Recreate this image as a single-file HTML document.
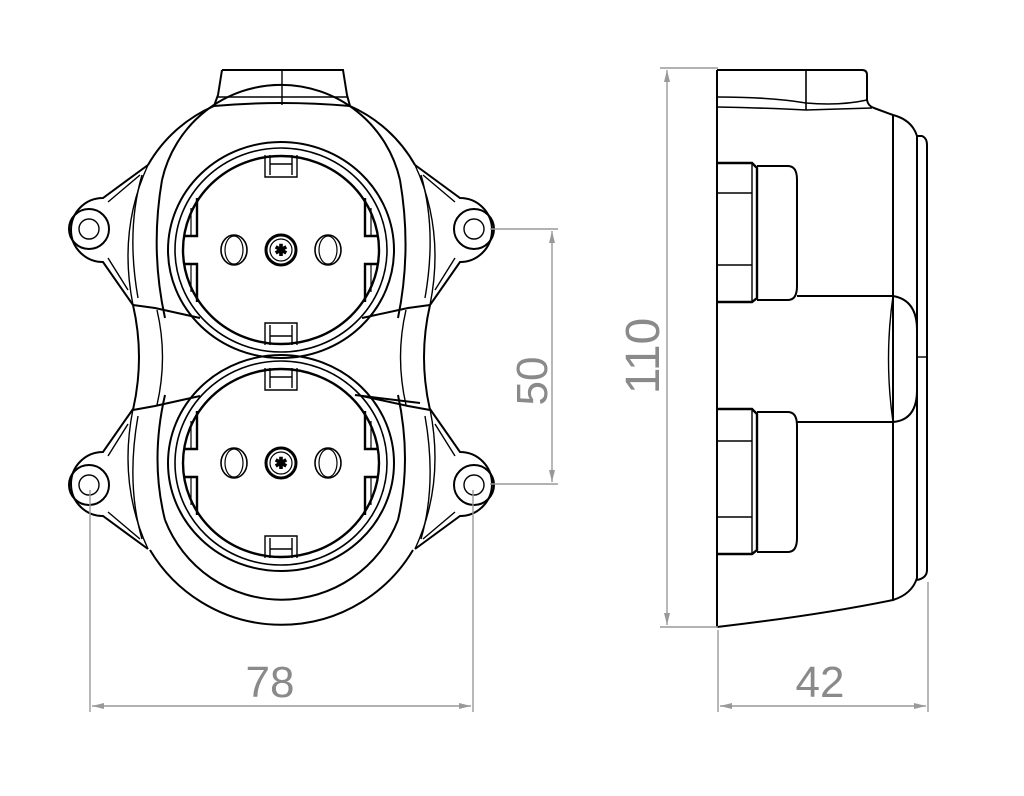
<!DOCTYPE html>
<html><head><meta charset="utf-8"><style>
html,body{margin:0;padding:0;background:#fff;}
svg{display:block;}
text{font-family:"Liberation Sans",sans-serif;fill:#8a8a8a;}
</style></head><body>
<svg width="1024" height="796" viewBox="0 0 1024 796" xmlns="http://www.w3.org/2000/svg">
<defs>
<marker id="ar" viewBox="0 0 12 6" refX="12" refY="3" markerWidth="12" markerHeight="6" orient="auto-start-reverse" markerUnits="userSpaceOnUse">
<path d="M0,0 L12,3 L0,6 Z" fill="#999"/></marker>
<g id="ear">
  <path d="M148,165 L103,198 A30,30 0 0 0 103,262 L133,305" fill="none"/>
  <path d="M140,175 L108,202 M108,258 L128,290" fill="none" stroke-width="1.4"/>
  <circle cx="89" cy="229" r="20" fill="none"/>
  <circle cx="89" cy="229" r="10" fill="none" stroke-width="1.4"/>
  <path d="M148,165 Q118,230 133,305" fill="none" stroke-width="1.4"/>
  <path d="M142,175 Q126,230 138,298" fill="none" stroke-width="1.4"/>
</g>
<g id="sock">
  <ellipse rx="113" ry="108" fill="none" stroke-width="2"/>
  <ellipse rx="106" ry="102" fill="none" stroke-width="1.6"/>
  <ellipse rx="98" ry="94" fill="none" stroke-width="2.4"/>
  <path d="M-84,-52 V-14 H-97 M-97,14 H-84 V52 M84,-52 V-14 H97 M97,14 H84 V52" fill="none" stroke-width="2.4"/>
  <path d="M-90,-42 V-14 M-90,14 V42 M90,-42 V-14 M90,14 V42" fill="none" stroke-width="1.2"/>
  <ellipse cx="-47" cy="0" rx="13" ry="15" fill="none" stroke-width="1.6"/>
  <ellipse cx="-47" cy="0" rx="9" ry="14" fill="none" stroke-width="1.2"/>
  <ellipse cx="47" cy="0" rx="13" ry="15" fill="none" stroke-width="1.6"/>
  <ellipse cx="47" cy="0" rx="9" ry="14" fill="none" stroke-width="1.2"/>
  <circle r="15" fill="none" stroke-width="3"/>
  <circle r="11" fill="none" stroke-width="1.2"/>
  <text x="0" y="5" text-anchor="middle" style="font-size:14px;fill:#000">✲</text>
  <path d="M-16,-95 V-73 H16 V-95 M-11,-95 V-75 M11,-95 V-75 M-11,-86 H11" fill="none" stroke-width="1.4"/>
  <path d="M-16,95 V73 H16 V95 M-11,95 V75 M11,95 V75 M-11,86 H11" fill="none" stroke-width="1.4"/>
</g>
</defs>

<g stroke="#000" stroke-width="2" fill="none">
  <path d="M222,70 H343 L347,95 L350,106 M222,70 L218,95 L214,106"/>
  <path d="M282,70 V105" stroke-width="1.4"/>
  <path d="M218,97 H347" stroke-width="1.4"/>
  <path d="M148,165 A140,140 0 0 1 214,106 Q281,100 350,106 A140,140 0 0 1 415,165"/>
  <path d="M162,180 A122,122 0 0 1 400,180"/>
  <path d="M162,180 Q150,250 165,318"/>
  <path d="M400,180 Q412,250 398,318"/>
  <path d="M150,550 A153,153 0 0 0 413,550"/>
  <path d="M165,520 A125,125 0 0 0 398,520"/>
  <path d="M165,520 Q150,460 165,395"/>
  <path d="M398,520 Q412,460 398,395"/>
  <path d="M133,305 Q145,357 133,410"/>
  <path d="M430,305 Q418,357 430,410"/>
  <path d="M157,310 Q168,357 157,405" stroke-width="1.4"/>
  <path d="M406,310 Q395,357 406,405" stroke-width="1.4"/>
  <path d="M133,305 L155,308 L200,318 M430,305 L408,308 L362,318"/>
  <path d="M133,410 L155,406 L200,396 M430,410 L408,406 L362,396 M355,395 L420,403"/>
  <use href="#ear"/>
  <use href="#ear" transform="translate(563,0) scale(-1,1)"/>
  <use href="#ear" transform="translate(0,714) scale(1,-1)"/>
  <use href="#ear" transform="translate(563,714) scale(-1,-1)"/>
  <use href="#sock" transform="translate(281,250)"/>
  <use href="#sock" transform="translate(281,463)"/>
</g>

<g stroke="#000" stroke-width="2" fill="none">
  <path d="M717,70 V627"/>
  <path d="M717,70 H862 Q867,70 867,75 V100 Q868,106 874,108 L893,115 Q912,120 917,136"/>
  <path d="M806,70 V110" stroke-width="1.6"/>
  <path d="M717,97 Q770,97 806,103 Q840,106 867,100" stroke-width="1.6"/>
  <path d="M717,107 Q770,108 806,110 L872,108" stroke-width="1.6"/>
  <path d="M893,115 V600"/>
  <path d="M917,136 V578 Q912,594 893,600 Q820,615 717,627"/>
  <path d="M917,136 H922 Q927,138 927,145 V570 Q927,578 917,580"/>
  <path d="M717,163 H752 L757,168 V298 L752,302 H717" stroke-width="2.4"/>
  <path d="M717,193 H752 M717,265 H752" stroke-width="1.6"/>
  <path d="M752,163 V302" stroke-width="1.4"/>
  <path d="M757,166 H788 Q797,166 797,180 V286 Q797,300 788,300 H757"/>
  <path d="M717,409 H752 L757,414 V550 L752,554 H717" stroke-width="2.4"/>
  <path d="M717,441 H752 M717,517 H752" stroke-width="1.6"/>
  <path d="M752,409 V554" stroke-width="1.4"/>
  <path d="M757,412 H788 Q797,412 797,426 V538 Q797,552 788,552 H757"/>
  <path d="M797,296 H893 Q917,300 917,330 V390 Q917,420 893,422 H797"/>
  <path d="M893,296 Q884,359 893,422" stroke-width="1.4"/>
  <path d="M917,357 H927" stroke-width="1.4"/>
</g>

<g stroke="#999" stroke-width="1.4" fill="none">
  <path d="M90,490 V712 M473,490 V712"/>
  <path d="M92,706 H471" marker-start="url(#ar)" marker-end="url(#ar)"/>
  <path d="M490,229 H558 M490,484 H558"/>
  <path d="M552,231 V482" marker-start="url(#ar)" marker-end="url(#ar)"/>
  <path d="M660,68 H718 M660,627 H718"/>
  <path d="M667,70 V625" marker-start="url(#ar)" marker-end="url(#ar)"/>
  <path d="M718,630 V712 M928,582 V712"/>
  <path d="M720,706 H926" marker-start="url(#ar)" marker-end="url(#ar)"/>
</g>
<text x="270" y="697" text-anchor="middle" style="font-size:44px">78</text>
<text x="820" y="697" text-anchor="middle" style="font-size:44px">42</text>
<text transform="translate(547,381) rotate(-90)" text-anchor="middle" style="font-size:44px">50</text>
<text transform="translate(659,356) rotate(-90)" text-anchor="middle" style="font-size:48px">110</text>
</svg>
</body></html>
